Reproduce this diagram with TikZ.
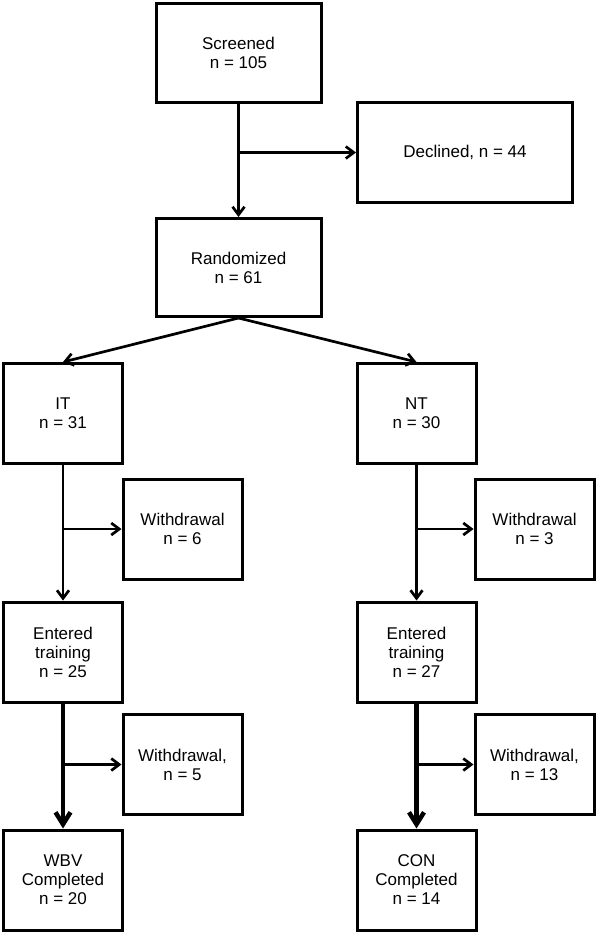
\documentclass[tikz,border=0pt]{standalone}
\usepackage{fontspec}
\setmainfont{Liberation Sans}
\usetikzlibrary{arrows.meta}
\begin{document}
\begin{tikzpicture}[x=1pt,y=-1pt,
  box/.style={draw, line width=3pt, align=center, inner sep=0pt,
    font=\fontsize{17}{19}\selectfont},
  colbox/.style={box, minimum width=119pt, minimum height=100pt},
  conn/.style={line width=2.7pt, -{Straight Barb[length=8pt,width=12pt]}},
  bigconn/.style={line width=4.5pt, -{Straight Barb[length=12pt,width=15pt]}}]
\useasboundingbox (0,0) rectangle (600,936);
\node[box, minimum width=165pt, minimum height=99pt] (scr) at (238.5,53) {Screened\\n = 105};
\node[box, minimum width=215pt, minimum height=100pt] (dec) at (465,152.5) {Declined, n = 44};
\node[box, minimum width=165pt, minimum height=98pt] (ran) at (238.5,267.5) {Randomized\\n = 61};
\node[colbox] (it) at (63,413.5) {IT\\n = 31};
\node[colbox] (nt) at (416.5,413.5) {NT\\n = 30};
\node[colbox] (w6) at (182.5,529) {Withdrawal\\n = 6};
\node[colbox] (w3) at (534.5,529) {Withdrawal\\n = 3};
\node[colbox] (e25) at (63,652) {Entered\\training\\n = 25};
\node[colbox] (e27) at (416.5,652) {Entered\\training\\n = 27};
\node[colbox] (w5) at (182.5,764.5) {Withdrawal,\\n = 5};
\node[colbox] (w13) at (534.5,764.5) {Withdrawal,\\n = 13};
\node[colbox] (wbv) at (63,880) {WBV\\Completed\\n = 20};
\node[colbox] (con) at (416.5,880) {CON\\Completed\\n = 14};
\draw[conn] (scr.south) -- (ran.north);
\draw[conn] (scr.south |- dec.west) -- (dec.west);
\draw[conn] (ran.south) -- (it.north);
\draw[conn] (ran.south) -- (nt.north);
\draw[conn] (it.south) -- (e25.north);
\draw[conn] (it.south |- w6.west) -- (w6.west);
\draw[conn] (nt.south) -- (e27.north);
\draw[conn] (nt.south |- w3.west) -- (w3.west);
\draw[bigconn] (e25.south) -- (wbv.north);
\draw[conn] (e25.south |- w5.west) -- (w5.west);
\draw[bigconn] (e27.south) -- (con.north);
\draw[conn] (e27.south |- w13.west) -- (w13.west);
\end{tikzpicture}
\end{document}
